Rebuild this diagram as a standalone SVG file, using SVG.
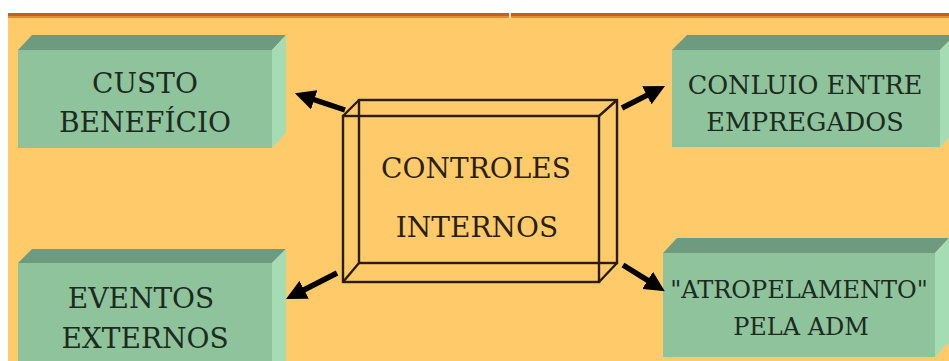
<svg xmlns="http://www.w3.org/2000/svg" width="949" height="361" viewBox="0 0 949 361">
<style>
.front{fill:#8fc39c}
.top{fill:#6e9b7f}
.side{fill:#a6dcb3}
text{font-family:'DejaVu Serif','Liberation Serif',serif}
.lbl{fill:#1c2b20;text-anchor:middle}
.big{font-size:28px}
.mid{font-size:25.5px}
.small{font-size:24px}
.wire{fill:none;stroke:#2a1c0c;stroke-width:2.4;stroke-linejoin:miter}
.arrow{fill:none;stroke:#000;stroke-width:5.5;marker-end:url(#ah)}
</style>
<defs>
<marker id="ah" viewBox="0 0 10 10" refX="4" refY="5" markerWidth="3.7" markerHeight="3.7" orient="auto">
<path d="M0,0 L10,5 L0,10 z" fill="#000"/>
</marker>
</defs>
<rect x="0" y="0" width="949" height="361" fill="#ffffff"/>
<rect x="8" y="17" width="941" height="344" fill="#ffcb6a"/>
<rect x="8" y="13" width="941" height="3" fill="#c2621a"/>
<rect x="8" y="16" width="941" height="2" fill="#e38a35"/>
<rect x="509" y="13" width="2" height="5" fill="#f6e3c8"/>

<g id="custo">
<rect class="front" x="18" y="50" width="254" height="98"/>
<polygon class="top" points="18,50 32,35 286,35 272,50"/>
<polygon class="side" points="272,50 286,35 286,133 272,148"/>
<text class="lbl big" x="145" y="93">CUSTO</text>
<text class="lbl big" x="145" y="132">BENEFÍCIO</text>
</g>

<g id="eventos">
<rect class="front" x="18" y="263" width="254" height="98"/>
<polygon class="top" points="18,263 32,249 286,249 272,263"/>
<polygon class="side" points="272,263 286,249 286,361 272,361"/>
<text class="lbl big" x="141" y="308">EVENTOS</text>
<text class="lbl big" x="145" y="348">EXTERNOS</text>
</g>

<g id="conluio">
<rect class="front" x="672" y="50" width="268" height="97"/>
<polygon class="top" points="672,50 687,35 955,35 940,50"/>
<polygon class="side" points="940,50 955,35 955,132 940,147"/>
<text class="lbl mid" x="805" y="94">CONLUIO ENTRE</text>
<text class="lbl mid" x="805" y="131">EMPREGADOS</text>
</g>

<g id="atropelamento">
<rect class="front" x="663" y="253" width="272" height="104"/>
<polygon class="top" points="663,253 677,238 949,238 935,253"/>
<polygon class="side" points="935,253 949,238 949,342 935,357"/>
<text class="lbl small" x="799" y="298">"ATROPELAMENTO"</text>
<text class="lbl small" x="801" y="335">PELA ADM</text>
</g>

<g id="controles">
<rect class="wire" x="359" y="100" width="258" height="163"/>
<rect class="wire" x="343" y="116" width="256" height="166"/>
<path class="wire" d="M343,116 L359,100 M599,116 L617,100 M599,282 L617,263 M343,282 L359,263"/>
<text class="lbl big" x="476" y="178" style="fill:#2a1f10">CONTROLES</text>
<text class="lbl big" x="477" y="237" style="fill:#2a1f10">INTERNOS</text>
</g>

<g id="connectors">
<path class="arrow" d="M345,110 L306.5,97.2"/>
<path class="arrow" d="M622,108 L654.1,91.6"/>
<path class="arrow" d="M337,273 L296.9,293.5"/>
<path class="arrow" d="M623,265 L654.5,284.7"/>
</g>
</svg>
